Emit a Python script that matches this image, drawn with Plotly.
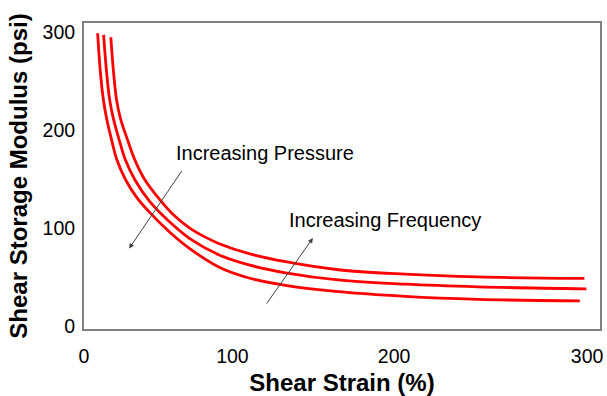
import plotly.graph_objects as go

# ---- data ----
strain_low = [8.12, 9.66, 11.56, 13.64, 16.42, 19.56, 24.72, 31.42, 39.13, 50.99, 62.84,
              80.63, 98.42, 120.18, 151.60, 191.32, 234.78, 295.66]
modulus_low = [298.7, 261.4, 230.9, 210.5, 190.2, 169.8, 149.5, 131.2, 115.9, 96.0, 79.3,
               60.0, 49.0, 41.5, 35.0, 30.2, 27.2, 25.7]

strain_mid = [11.68, 13.34, 15.30, 17.67, 20.93, 24.60, 30.24, 39.13, 50.99, 62.84,
              80.63, 98.42, 120.18, 151.60, 191.32, 234.78, 299.58]
modulus_mid = [297.0, 261.4, 230.9, 210.5, 190.2, 169.8, 149.5, 127.1, 106.3, 89.5,
               72.5, 62.3, 54.3, 47.0, 42.7, 40.0, 37.9]

strain_high = [16.01, 17.49, 19.39, 21.94, 25.91, 30.24, 36.17, 45.06, 53.95, 62.84, 71.74,
               80.63, 98.42, 120.18, 151.60, 191.32, 234.78, 298.39]
modulus_high = [294.6, 261.4, 230.9, 210.5, 190.2, 169.8, 149.5, 129.2, 112.4, 100.2, 91.2,
                84.0, 73.8, 65.6, 57.4, 52.9, 50.1, 48.5]

# tick labels, at the places the reference prints them
x_tick_positions = [0, 88.5, 184.9, 300]
x_tick_labels = ["0", "100", "200", "300"]
y_tick_values = [0, 100, 200, 300]
y_tick_labels = ["0", "100", "200", "300"]

labels = ["Increasing Pressure", "Increasing Frequency"]

FONT = "Arial, Liberation Sans, sans-serif"
RED = "#FF0000"

fig = go.Figure()
for xs, ys, nm in [(strain_low, modulus_low, "low"),
                   (strain_mid, modulus_mid, "mid"),
                   (strain_high, modulus_high, "high")]:
    fig.add_trace(go.Scatter(x=xs, y=ys, mode="lines", name=nm,
                             line=dict(color=RED, width=2.8, shape="spline", smoothing=1.0),
                             hoverinfo="skip"))

# text labels
fig.add_annotation(x=53.9, y=176.4, text=labels[0], showarrow=False,
                   xanchor="left", yanchor="middle", xref="x", yref="y",
                   font=dict(family=FONT, size=20, color="#000000"))
fig.add_annotation(x=120.9, y=108.3, text=labels[1], showarrow=False,
                   xanchor="left", yanchor="middle", xref="x", yref="y",
                   font=dict(family=FONT, size=20, color="#000000"))

# arrows
fig.add_annotation(x=26.9, y=79.0, ax=58.9, ay=159.7, xref="x", yref="y",
                   axref="x", ayref="y", text="", showarrow=True,
                   arrowhead=2, arrowsize=1, arrowwidth=1, arrowcolor="#404040")
fig.add_annotation(x=136.5, y=89.8, ax=108.3, ay=21.4, xref="x", yref="y",
                   axref="x", ayref="y", text="", showarrow=True,
                   arrowhead=2, arrowsize=1, arrowwidth=1, arrowcolor="#404040")

fig.update_layout(
    width=607, height=396,
    margin=dict(l=84, r=4, t=23, b=66),
    paper_bgcolor="white", plot_bgcolor="white",
    showlegend=False,
    font=dict(family=FONT, size=19.5, color="#000000"),
)
fig.update_xaxes(
    range=[0, 307.7], tickmode="array", tickvals=x_tick_positions, ticktext=x_tick_labels,
    showgrid=False, zeroline=False, showline=True, mirror=True,
    linecolor="#808080", linewidth=2, ticks="", ticklabelstandoff=9,
    tickfont=dict(family=FONT, size=19.5, color="#000000"),
    title=dict(text="<b>Shear Strain (%)</b>", font=dict(family=FONT, size=24, color="#000000"), standoff=8),
)
fig.update_yaxes(
    range=[-3.05, 309.15], tickmode="array", tickvals=y_tick_values, ticktext=y_tick_labels,
    showgrid=False, zeroline=False, showline=True, mirror=True,
    linecolor="#808080", linewidth=2, ticks="", ticklabelstandoff=3,
    tickfont=dict(family=FONT, size=19.5, color="#000000"),
    title=dict(text="<b>Shear Storage Modulus (psi)</b>", font=dict(family=FONT, size=24, color="#000000"), standoff=8),
)

fig.write_html("out.html")
